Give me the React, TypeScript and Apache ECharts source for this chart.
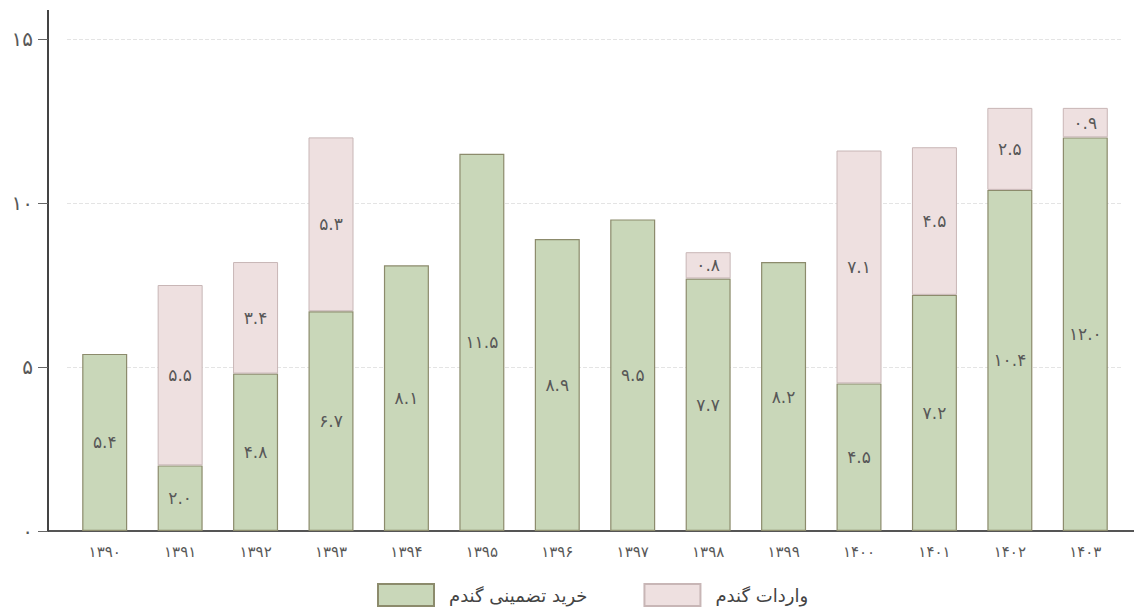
import React, { useEffect, useRef } from "react";
import * as echarts from "echarts";

// Persian solar years
const years = ["۱۳۹۰", "۱۳۹۱", "۱۳۹۲", "۱۳۹۳", "۱۳۹۴", "۱۳۹۵", "۱۳۹۶", "۱۳۹۷", "۱۳۹۸", "۱۳۹۹", "۱۴۰۰", "۱۴۰۱", "۱۴۰۲", "۱۴۰۳"];
// Guaranteed wheat purchase (million tonnes)
const purchase = [5.4, 2.0, 4.8, 6.7, 8.1, 11.5, 8.9, 9.5, 7.7, 8.2, 4.5, 7.2, 10.4, 12.0];
// Wheat imports (million tonnes)
const imports: (number | null)[] = [null, 5.5, 3.4, 5.3, null, null, null, null, 0.8, null, 7.1, 4.5, 2.5, 0.9];
const yTicks = [0, 5, 10, 15];

const faDigits = "۰۱۲۳۴۵۶۷۸۹";
const toFa = (s: string) => s.replace(/[0-9]/g, (d) => faDigits[+d]);

const FONT = "DejaVu Sans";
const TEXT = "#585858";

export default function App() {
  const ref = useRef<HTMLDivElement>(null);
  useEffect(() => {
    if (!ref.current) return;
    const chart = echarts.init(ref.current, undefined, { renderer: "svg" });
    chart.setOption({
      animation: false,
      backgroundColor: "#ffffff",
      textStyle: { fontFamily: FONT },
      grid: { left: 67, right: 11, top: 39, bottom: 79 },
      legend: {
        left: 372,
        top: 578,
        itemWidth: 56,
        itemHeight: 22,
        itemGap: 56,
        textStyle: { fontFamily: FONT, fontSize: 18, color: "#444", padding: [0, 0, 0, 10] },
        data: [
          { name: "خرید تضمینی گندم", icon: "rect" },
          { name: "واردات گندم", icon: "rect" },
        ],
      },
      xAxis: {
        type: "category",
        data: years,
        axisLine: { lineStyle: { color: "#555", width: 2 } },
        axisTick: { show: false },
        axisLabel: { color: TEXT, fontSize: 15, margin: 13, fontFamily: FONT },
      },
      yAxis: {
        type: "value",
        min: 0,
        max: yTicks[yTicks.length - 1],
        interval: 5,
        offset: 19,
        axisLine: { show: true, lineStyle: { color: "#444", width: 2 } },
        axisTick: { show: true, length: 10, lineStyle: { color: "#666" } },
        axisLabel: {
          color: TEXT,
          fontSize: 20,
          margin: 15,
          fontFamily: FONT,
          formatter: (v: number) => toFa(String(v)),
        },
        splitLine: { lineStyle: { color: "#e4e4e4", type: "dashed" } },
      },
      graphic: [
        {
          type: "line",
          shape: { x1: 48, y1: 531, x2: 1134, y2: 531 },
          style: { stroke: "#555", lineWidth: 2 },
          z: 0,
        },
        {
          type: "line",
          shape: { x1: 48, y1: 10, x2: 48, y2: 40 },
          style: { stroke: "#444", lineWidth: 2 },
        },
      ],
      series: [
        {
          name: "خرید تضمینی گندم",
          type: "bar",
          stack: "total",
          barWidth: 45,
          data: purchase,
          itemStyle: { color: "#c9d7b9", borderColor: "#8c8b6c", borderWidth: 1.2 },
          label: {
            show: true,
            position: "inside",
            color: TEXT,
            fontSize: 17,
            fontFamily: FONT,
            formatter: (p: any) => toFa(Number(p.value).toFixed(1)),
          },
        },
        {
          name: "واردات گندم",
          type: "bar",
          stack: "total",
          barWidth: 45,
          data: imports,
          itemStyle: { color: "#eee0e0", borderColor: "#c8b6b6", borderWidth: 1 },
          label: {
            show: true,
            position: "inside",
            color: TEXT,
            fontSize: 17,
            fontFamily: FONT,
            formatter: (p: any) => (p.value == null ? "" : toFa(Number(p.value).toFixed(1))),
          },
        },
      ],
    });
    return () => chart.dispose();
  }, []);
  return (
    <div
      ref={ref}
      style={{ position: "fixed", left: 0, top: 0, width: 1134, height: 610 }}
    />
  );
}
